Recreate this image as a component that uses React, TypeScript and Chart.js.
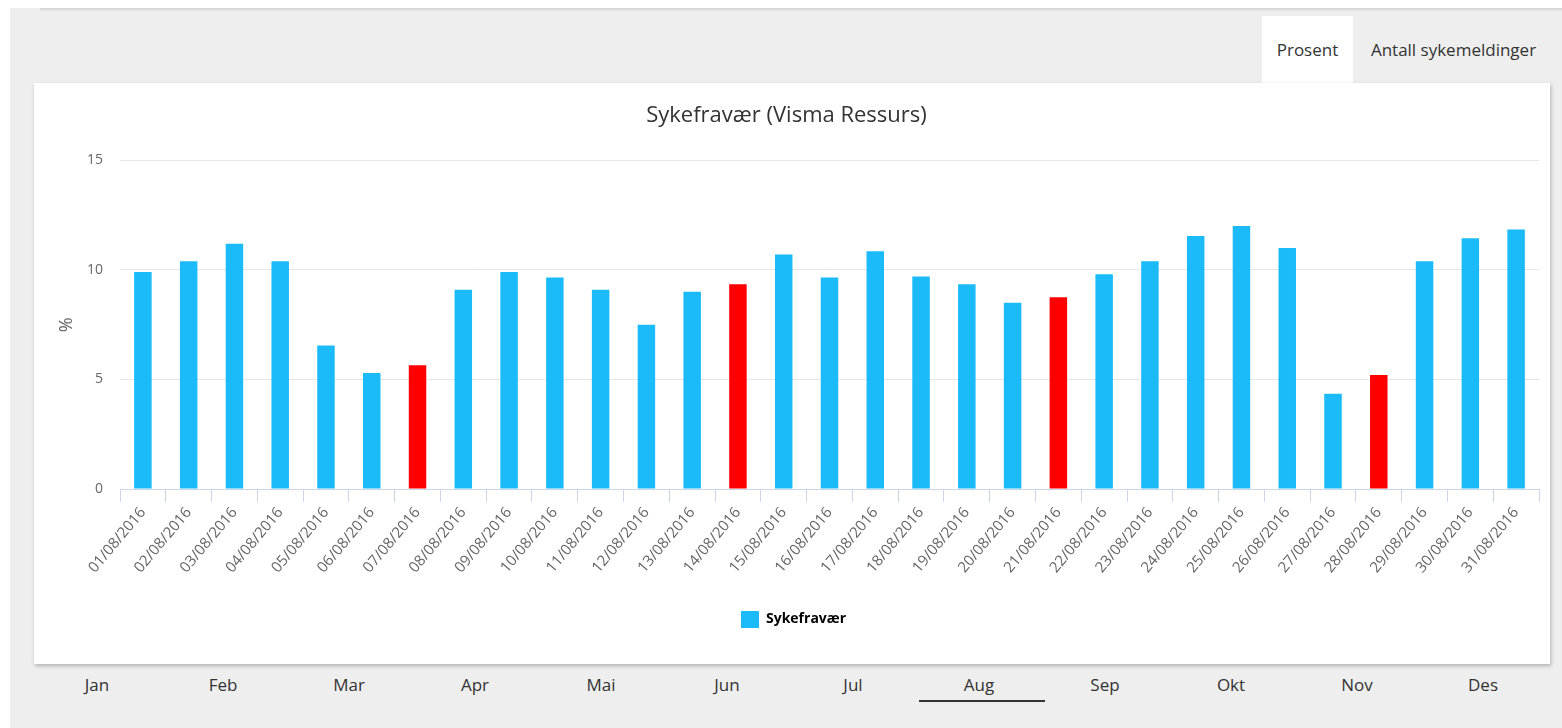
import React, { useEffect, useRef } from "react";
import { Chart, registerables } from "chart.js";

Chart.register(...registerables);

const chartTitle = "Sykefravær (Visma Ressurs)";
const seriesName = "Sykefravær";
const yAxisTitle = "%";

const dates = [
  "01/08/2016", "02/08/2016", "03/08/2016", "04/08/2016", "05/08/2016", "06/08/2016",
  "07/08/2016", "08/08/2016", "09/08/2016", "10/08/2016", "11/08/2016", "12/08/2016",
  "13/08/2016", "14/08/2016", "15/08/2016", "16/08/2016", "17/08/2016", "18/08/2016",
  "19/08/2016", "20/08/2016", "21/08/2016", "22/08/2016", "23/08/2016", "24/08/2016",
  "25/08/2016", "26/08/2016", "27/08/2016", "28/08/2016", "29/08/2016", "30/08/2016",
  "31/08/2016",
];

const values = [
  9.9, 10.4, 11.2, 10.4, 6.55, 5.3, 5.65, 9.1, 9.9, 9.65, 9.1, 7.5, 9.0, 9.35, 10.7, 9.65,
  10.85, 9.7, 9.35, 8.5, 8.75, 9.8, 10.4, 11.55, 12.0, 11.0, 4.35, 5.2, 10.4, 11.45, 11.85,
];

const highlightedDates = ["07/08/2016", "14/08/2016", "21/08/2016", "28/08/2016"];

const yMin = 0;
const yMax = 15;
const yStep = 5;

const months = ["Jan", "Feb", "Mar", "Apr", "Mai", "Jun", "Jul", "Aug", "Sep", "Okt", "Nov", "Des"];
const selectedMonth = "Aug";
const tabs = ["Prosent", "Antall sykemeldinger"];

const BLUE = "#1bbbf9";
const RED = "#ff0000";
const FONT = "'Open Sans', 'DejaVu Sans', sans-serif";

const legendShift = {
  id: "legendShift",
  afterLayout(chart: any) {
    if (chart.legend) {
      chart.legend.left += 7;
      chart.legend.right += 7;
    }
  },
};

function BarChart() {
  const ref = useRef<HTMLCanvasElement | null>(null);
  useEffect(() => {
    if (!ref.current) return;
    const colors = dates.map((d) => (highlightedDates.includes(d) ? RED : BLUE));
    const chart = new Chart(ref.current, {
      type: "bar",
      data: {
        labels: dates,
        datasets: [
          {
            label: seriesName,
            data: values,
            backgroundColor: colors,
            borderWidth: 0,
            categoryPercentage: 1,
            barPercentage: 0.382,
          },
        ],
      },
      plugins: [legendShift],
      options: {
        responsive: false,
        animation: false,
        devicePixelRatio: 1,
        layout: { padding: { left: 0, right: 11, top: 0, bottom: 26 } },
        plugins: {
          title: {
            display: true,
            text: chartTitle,
            color: "#333333",
            font: { family: FONT, size: 22, weight: "normal" },
            padding: { top: 20, bottom: 31 },
          },
          legend: {
            display: true,
            position: "bottom",
            labels: {
              boxWidth: 18,
              boxHeight: 17,
              color: "#333333",
              font: { family: FONT, size: 14, weight: "bold" },
              generateLabels: () => [
                {
                  text: seriesName,
                  fillStyle: BLUE,
                  strokeStyle: BLUE,
                  lineWidth: 0,
                  hidden: false,
                  datasetIndex: 0,
                },
              ],
            },
          },
          tooltip: { enabled: false },
        },
        scales: {
          x: {
            offset: true,
            grid: {
              display: true,
              drawOnChartArea: false,
              drawTicks: true,
              tickLength: 13,
              color: "#ccd6eb",
              offset: true,
            },
            border: { display: true, color: "#ccd6eb" },
            ticks: {
              color: "#666666",
              font: { family: FONT, size: 15 },
              minRotation: 50,
              maxRotation: 50,
              autoSkip: false,
              padding: 2,
            },
            afterFit: (scale: any) => {
              scale.height = 112;
            },
          },
          y: {
            min: yMin,
            max: yMax,
            ticks: {
              stepSize: yStep,
              color: "#666666",
              font: { family: FONT, size: 14 },
              padding: 17,
            },
            grid: { color: "#e6e6e6", drawTicks: false },
            border: { display: false },
            title: {
              display: true,
              text: yAxisTitle,
              color: "#666666",
              font: { family: FONT, size: 18 },
              padding: { top: 22, bottom: 0 },
            },
            afterFit: (scale: any) => {
              scale.width = 86;
            },
          },
        },
      },
    });
    return () => chart.destroy();
  }, []);
  return <canvas ref={ref} width={1516} height={581} style={{ display: "block" }} />;
}

export default function App() {
  useEffect(() => {
    document.body.style.margin = "0";
  }, []);
  return (
    <div
      style={{
        position: "absolute",
        left: 0,
        top: 0,
        width: 1562,
        height: 728,
        background: "#ffffff",
        overflow: "hidden",
        fontFamily: FONT,
      }}
    >
      <div style={{ position: "absolute", left: 10, top: 8, width: 1552, height: 720, background: "#eeeeee" }} />
      <div
        style={{
          position: "absolute",
          left: 40,
          top: 8,
          width: 1522,
          height: 4,
          background: "linear-gradient(#d2d2d2, #eeeeee)",
        }}
      />
      {/* tabs */}
      <div
        style={{
          position: "absolute",
          left: 1262,
          top: 16,
          width: 91,
          height: 67,
          background: "#ffffff",
          display: "flex",
          alignItems: "center",
          justifyContent: "center",
          fontSize: 17,
          color: "#333333",
        }}
      >
        {tabs[0]}
      </div>
      <div
        style={{
          position: "absolute",
          left: 1360,
          top: 16,
          width: 187,
          height: 67,
          display: "flex",
          alignItems: "center",
          justifyContent: "center",
          fontSize: 17,
          color: "#333333",
          whiteSpace: "nowrap",
        }}
      >
        {tabs[1]}
      </div>
      {/* panel */}
      <div
        style={{
          position: "absolute",
          left: 34,
          top: 83,
          width: 1516,
          height: 581,
          background: "#ffffff",
          boxShadow: "1px 2px 4px rgba(0,0,0,0.25)",
        }}
      >
        <BarChart />
      </div>
      {/* month navigation */}
      {months.map((m, i) => (
        <div
          key={m}
          style={{
            position: "absolute",
            left: 34 + 126 * i,
            top: 674,
            width: 126,
            height: 22,
            lineHeight: "22px",
            textAlign: "center",
            fontSize: 17,
            color: "#333333",
          }}
        >
          {m}
        </div>
      ))}
      <div
        style={{
          position: "absolute",
          left: 34 + 126 * months.indexOf(selectedMonth) + 3,
          top: 700,
          width: 126,
          height: 2,
          background: "#333333",
        }}
      />
    </div>
  );
}
